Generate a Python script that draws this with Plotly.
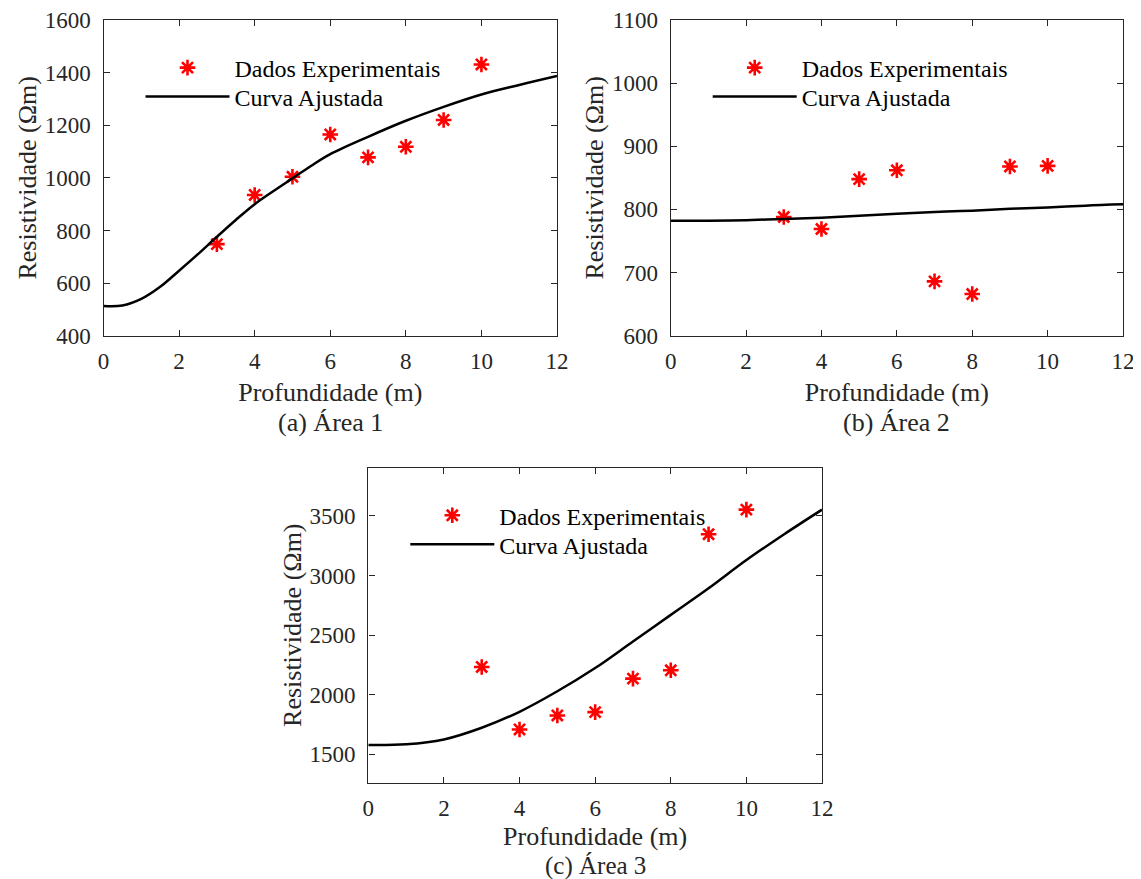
import plotly.graph_objects as go

W, H = 1141, 879
OFF = 8  # the page body adds an 8px margin; place content so it lands where the reference has it

# ---- data ----
depth = [3, 4, 5, 6, 7, 8, 9, 10]
area1_data = [748, 935, 1004, 1165, 1078, 1118, 1220, 1431]
area2_data = [788, 769, 848, 862, 686, 666, 868, 869]
area3_data = [2233, 1709, 1826, 1854, 2135, 2205, 3347, 3553]

curve1_x = [0, 0.5, 1, 1.5, 2, 2.5, 3, 3.5, 4, 4.5, 5, 5.5, 6, 7, 8, 9, 10, 11, 12]
curve1_y = [513, 515, 540, 586, 647, 710, 776, 840, 900, 950, 998, 1046, 1090, 1156, 1217, 1270, 1317, 1353, 1387]
curve2_x = [0, 1, 2, 3, 4, 5, 6, 7, 8, 9, 10, 11, 12]
curve2_y = [782, 782, 783, 785, 787, 790, 793, 796, 798, 801, 803, 806, 808]
curve3_x = [0, 1, 2, 3, 4, 5, 6, 7, 8, 9, 10, 11, 12]
curve3_y = [1578, 1584, 1625, 1723, 1857, 2029, 2224, 2447, 2670, 2893, 3130, 3347, 3553]

x_ticks = [0, 2, 4, 6, 8, 10, 12]
y1_ticks = [400, 600, 800, 1000, 1200, 1400, 1600]
y2_ticks = [600, 700, 800, 900, 1000, 1100]
y3_ticks = [1500, 2000, 2500, 3000, 3500]

captions = ["(a) Área 1", "(b) Área 2", "(c) Área 3"]
x_title = "Profundidade (m)"
y_title = "Resistividade (Ωm)"
name_data = "Dados Experimentais"
name_curve = "Curva Ajustada"

FONT = "Liberation Serif"
TXT = "#262626"

# panel boxes in screen pixels: left, right, top, bottom
boxes = [(103.5, 557.0, 20.0, 335.7),
         (670.7, 1123.0, 20.0, 335.7),
         (368.3, 822.0, 467.7, 782.7)]
caption_gap = [87, 87, 83]
xtitle_standoff = [10, 10, 7]
caption_size = [26, 26, 25]

fig = go.Figure()

series = [(area1_data, curve1_x, curve1_y), (area2_data, curve2_x, curve2_y), (area3_data, curve3_x, curve3_y)]
for i, (dat, cx, cy) in enumerate(series):
    sfx = "" if i == 0 else str(i + 1)
    leg_a = "legend" if i == 0 else "legend" + str(2 * i + 1)
    leg_b = "legend" + str(2 * i + 2)
    fig.add_trace(go.Scatter(
        x=depth, y=dat, mode="markers", name=name_data,
        marker=dict(symbol="asterisk-open", size=13, color="red",
                    line=dict(color="red", width=2.6)),
        xaxis="x" + sfx, yaxis="y" + sfx, legend=leg_a))
    fig.add_trace(go.Scatter(
        x=cx, y=cy, mode="lines", name=name_curve,
        line=dict(color="black", width=2.5, shape="spline"),
        xaxis="x" + sfx, yaxis="y" + sfx, legend=leg_b))

yranges = [[400, 1600], [600, 1100], [1262, 3905]]
yticks = [y1_ticks, y2_ticks, y3_ticks]

layout = dict(
    width=W, height=H,
    margin=dict(l=0, r=0, t=0, b=0, autoexpand=False),
    paper_bgcolor="white", plot_bgcolor="white",
    font=dict(family=FONT, size=23, color=TXT),
    showlegend=True,
)


def fx(px):
    return (px - OFF) / W


def fy(py):
    return 1 - (py - OFF) / H


annotations = []
for i, (l, r, t, b) in enumerate(boxes):
    sfx = "" if i == 0 else str(i + 1)
    axcommon = dict(showline=True, linecolor=TXT, linewidth=1.4, mirror="ticks",
                    ticks="inside", ticklen=6, tickwidth=1.2, tickcolor=TXT,
                    showgrid=False, zeroline=False, automargin=False,
                    tickfont=dict(family=FONT, size=23, color=TXT))
    layout["xaxis" + sfx] = dict(
        domain=[fx(l), fx(r)], range=[0, 12], tickvals=x_ticks,
        anchor="y" + sfx, ticklabelstandoff=4,
        title=dict(text=x_title, font=dict(family=FONT, size=26, color=TXT),
                   standoff=xtitle_standoff[i]),
        **axcommon)
    layout["yaxis" + sfx] = dict(
        domain=[fy(b), fy(t)], range=yranges[i], tickvals=yticks[i],
        anchor="x" + sfx, ticklabelstandoff=7,
        title=dict(text=y_title, font=dict(family=FONT, size=26, color=TXT), standoff=0),
        **axcommon)
    leg_a = "legend" if i == 0 else "legend" + str(2 * i + 1)
    leg_b = "legend" + str(2 * i + 2)
    for leg, dy in ((leg_a, 48), (leg_b, 77)):
        layout[leg] = dict(
            x=fx(l + 37), y=fy(t + dy), xanchor="left", yanchor="middle",
            bgcolor="rgba(0,0,0,0)", borderwidth=0, itemwidth=84,
            font=dict(family=FONT, size=24, color="black"))
    annotations.append(dict(
        text=captions[i], x=fx((l + r) / 2), y=fy(b + caption_gap[i]),
        xref="paper", yref="paper", xanchor="center", yanchor="middle",
        showarrow=False, font=dict(family=FONT, size=caption_size[i], color=TXT)))

layout["annotations"] = annotations
fig.update_layout(**layout)

fig.write_html("out.html")
